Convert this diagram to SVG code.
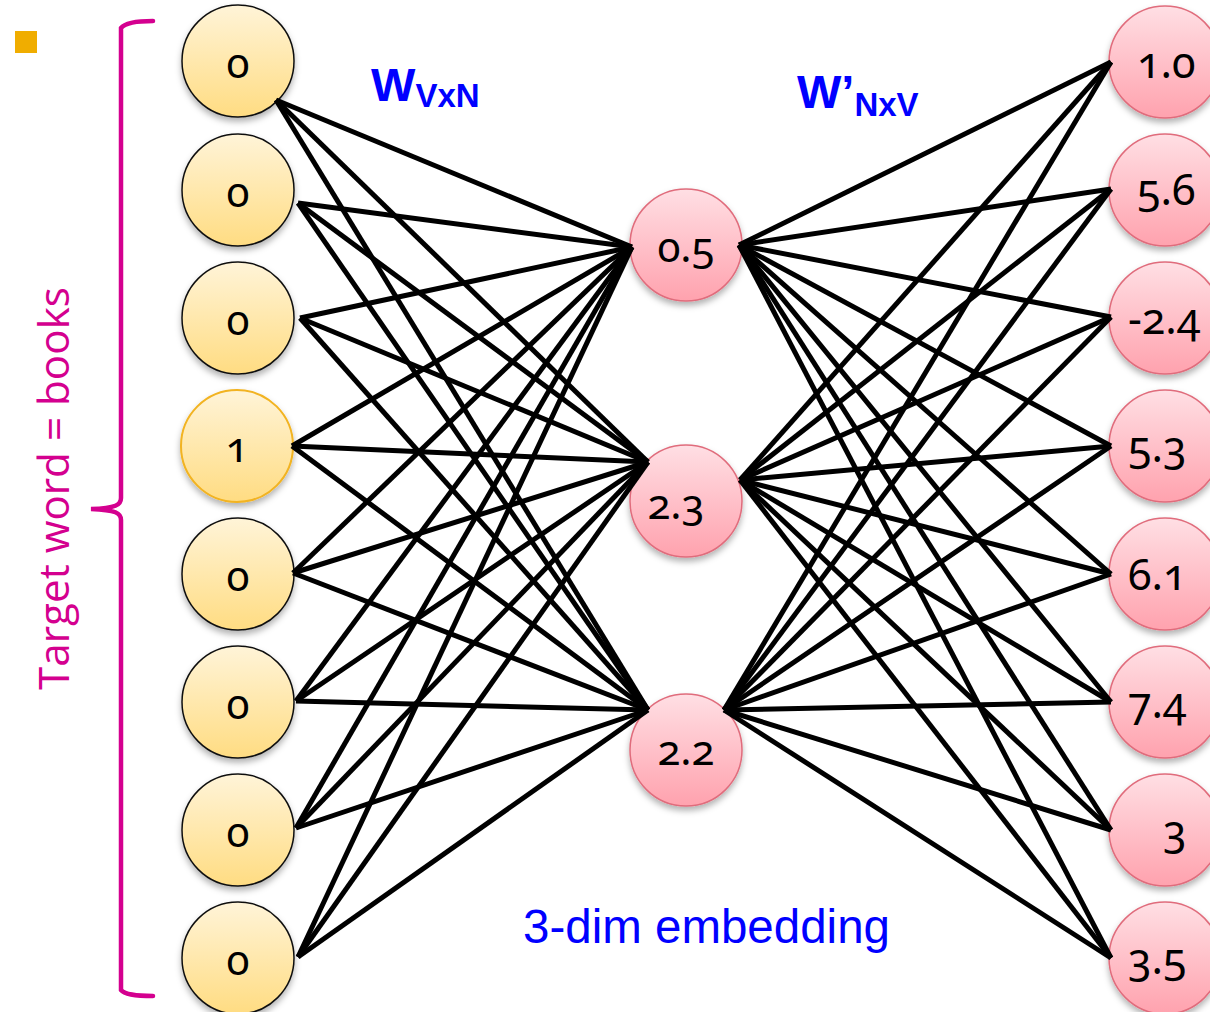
<svg xmlns="http://www.w3.org/2000/svg" width="1210" height="1012" viewBox="0 0 1210 1012">
<defs>
<linearGradient id="gIn" x1="0" y1="0" x2="0" y2="1">
<stop offset="0" stop-color="#fff4d8"/>
<stop offset="1" stop-color="#ffdc82"/>
</linearGradient>
<linearGradient id="gPk" x1="0" y1="0" x2="0" y2="1">
<stop offset="0" stop-color="#ffdfe4"/>
<stop offset="1" stop-color="#ffa2ae"/>
</linearGradient>
<filter id="sh" x="-30%" y="-30%" width="160%" height="170%">
<feDropShadow dx="0" dy="4" stdDeviation="3" flood-color="#000" flood-opacity="0.3"/>
</filter>
</defs>
<style>
.in{fill:url(#gIn);stroke:#111;stroke-width:1.5;filter:url(#sh)}
.in1{fill:url(#gIn);stroke:#f2b320;stroke-width:2;filter:url(#sh)}
.pk{fill:url(#gPk);stroke:#e06c7c;stroke-width:1.5;filter:url(#sh)}
.nt{font-family:"Noto Sans","Open Sans","DejaVu Sans",sans-serif;font-size:42px;fill:#000;font-variant-numeric:oldstyle-nums;font-feature-settings:"onum" 1}
.mid{text-anchor:middle}
.ot{font-size:43px}
#connectors line{stroke:#000;stroke-width:5;stroke-linecap:butt}
.wl{font-family:"Liberation Sans",Arial,sans-serif;font-weight:bold;fill:#0000ff}
</style>
<rect width="1210" height="1012" fill="#fff"/>
<rect x="15" y="31" width="22" height="22" fill="#f0ad00"/>
<g id="brace" fill="none" stroke="#d4008f" stroke-width="4.5" stroke-linecap="round">
<path d="M153,21 C138,21 125,23 121,28 L121,498 C121,505 116,508 91,509 C116,510 121,513 121,520 L121,990 C125,995 138,996 153,996"/>
</g>
<text transform="translate(69,690) rotate(-90)" font-family="'Open Sans','Noto Sans',sans-serif" font-size="42" fill="#d4008f" textLength="403" lengthAdjust="spacingAndGlyphs">Target word = books</text>

<g id="input-nodes">
<g id="in1"><circle class="in" cx="238" cy="61" r="56"/><text class="nt mid" x="238" y="78">0</text></g>
<g id="in2"><circle class="in" cx="238" cy="190" r="56"/><text class="nt mid" x="238" y="207">0</text></g>
<g id="in3"><circle class="in" cx="238" cy="318" r="56"/><text class="nt mid" x="238" y="335">0</text></g>
<g id="in4"><circle class="in1" cx="237" cy="446" r="56"/><text class="nt mid" x="237" y="462">1</text></g>
<g id="in5"><circle class="in" cx="238" cy="574" r="56"/><text class="nt mid" x="238" y="591">0</text></g>
<g id="in6"><circle class="in" cx="238" cy="702" r="56"/><text class="nt mid" x="238" y="719">0</text></g>
<g id="in7"><circle class="in" cx="238" cy="830" r="56"/><text class="nt mid" x="238" y="847">0</text></g>
<g id="in8"><circle class="in" cx="238" cy="958" r="56"/><text class="nt mid" x="238" y="975">0</text></g>
</g>

<g id="hidden-nodes">
<g id="h1"><circle class="pk" cx="686" cy="245" r="56"/><text class="nt mid" x="686" y="262">0.5</text></g>
<g id="h2"><circle class="pk" cx="686" cy="501" r="56"/><text class="nt mid" x="676" y="519">2.3</text></g>
<g id="h3"><circle class="pk" cx="686" cy="750" r="56"/><text class="nt mid" x="686" y="765">2.2</text></g>
</g>

<g id="output-nodes">
<g id="o1"><circle class="pk" cx="1165" cy="62" r="56"/><text class="nt ot" x="1137" y="78">1.0</text></g>
<g id="o2"><circle class="pk" cx="1165" cy="190" r="56"/><text class="nt ot" x="1137" y="205">5.6</text></g>
<g id="o3"><circle class="pk" cx="1165" cy="318" r="56"/><text class="nt ot" x="1128" y="334">-2.4</text></g>
<g id="o4"><circle class="pk" cx="1165" cy="446" r="56"/><text class="nt ot" x="1128" y="462">5.3</text></g>
<g id="o5"><circle class="pk" cx="1165" cy="574" r="56"/><text class="nt ot" x="1128" y="590">6.1</text></g>
<g id="o6"><circle class="pk" cx="1165" cy="702" r="56"/><text class="nt ot" x="1128" y="718">7.4</text></g>
<g id="o7"><circle class="pk" cx="1165" cy="830" r="56"/><text class="nt ot" x="1163" y="846">3</text></g>
<g id="o8"><circle class="pk" cx="1165" cy="958" r="56"/><text class="nt ot" x="1128" y="974">3.5</text></g>
</g>

<g id="connectors">
<line x1="276" y1="100" x2="632" y2="247"/>
<line x1="276" y1="100" x2="648" y2="462"/>
<line x1="276" y1="100" x2="648" y2="710"/>
<line x1="298" y1="203" x2="632" y2="247"/>
<line x1="298" y1="203" x2="648" y2="462"/>
<line x1="298" y1="203" x2="648" y2="710"/>
<line x1="300" y1="318" x2="632" y2="247"/>
<line x1="300" y1="318" x2="648" y2="462"/>
<line x1="300" y1="318" x2="648" y2="710"/>
<line x1="292" y1="446" x2="632" y2="247"/>
<line x1="292" y1="446" x2="648" y2="462"/>
<line x1="292" y1="446" x2="648" y2="710"/>
<line x1="293" y1="573" x2="632" y2="247"/>
<line x1="293" y1="573" x2="648" y2="462"/>
<line x1="293" y1="573" x2="648" y2="710"/>
<line x1="296" y1="701" x2="632" y2="247"/>
<line x1="296" y1="701" x2="648" y2="462"/>
<line x1="296" y1="701" x2="648" y2="710"/>
<line x1="296" y1="828" x2="632" y2="247"/>
<line x1="296" y1="828" x2="648" y2="462"/>
<line x1="296" y1="828" x2="648" y2="710"/>
<line x1="298" y1="957" x2="632" y2="247"/>
<line x1="298" y1="957" x2="648" y2="462"/>
<line x1="298" y1="957" x2="648" y2="710"/>

<line x1="739" y1="245" x2="1111" y2="62"/>
<line x1="739" y1="245" x2="1111" y2="189"/>
<line x1="739" y1="245" x2="1111" y2="317"/>
<line x1="739" y1="245" x2="1111" y2="446"/>
<line x1="739" y1="245" x2="1111" y2="574"/>
<line x1="739" y1="245" x2="1111" y2="702"/>
<line x1="739" y1="245" x2="1111" y2="830"/>
<line x1="739" y1="245" x2="1111" y2="958"/>
<line x1="740" y1="480" x2="1111" y2="62"/>
<line x1="740" y1="480" x2="1111" y2="189"/>
<line x1="740" y1="480" x2="1111" y2="317"/>
<line x1="740" y1="480" x2="1111" y2="446"/>
<line x1="740" y1="480" x2="1111" y2="574"/>
<line x1="740" y1="480" x2="1111" y2="702"/>
<line x1="740" y1="480" x2="1111" y2="830"/>
<line x1="740" y1="480" x2="1111" y2="958"/>
<line x1="724" y1="710" x2="1111" y2="62"/>
<line x1="724" y1="710" x2="1111" y2="189"/>
<line x1="724" y1="710" x2="1111" y2="317"/>
<line x1="724" y1="710" x2="1111" y2="446"/>
<line x1="724" y1="710" x2="1111" y2="574"/>
<line x1="724" y1="710" x2="1111" y2="702"/>
<line x1="724" y1="710" x2="1111" y2="830"/>
<line x1="724" y1="710" x2="1111" y2="958"/>
</g>

<g id="labels">
<text class="wl" x="371" y="101" font-size="47">W<tspan font-size="33" dy="6">VxN</tspan></text>
<text class="wl" x="797" y="108" font-size="47">W’<tspan font-size="33" dy="8">NxV</tspan></text>
<text x="523" y="943" font-family="'Liberation Sans',Arial,sans-serif" font-size="47.5" fill="#0000ff">3-dim embedding</text>
</g>
</svg>
